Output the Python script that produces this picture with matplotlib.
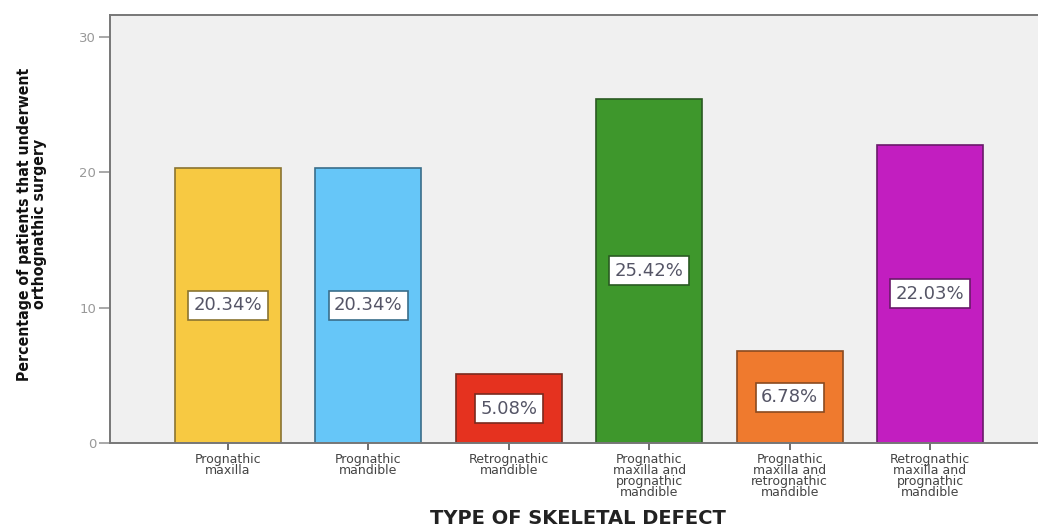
import matplotlib.pyplot as plt

categories = [
    "Prognathic\nmaxilla",
    "Prognathic\nmandible",
    "Retrognathic\nmandible",
    "Prognathic\nmaxilla and\nprognathic\nmandible",
    "Prognathic\nmaxilla and\nretrognathic\nmandible",
    "Retrognathic\nmaxilla and\nprognathic\nmandible",
]
percentages = [20.34, 20.34, 5.08, 25.42, 6.78, 22.03]
face_colors = ["#F7C942", "#66C6F8", "#E5321F", "#3E972C", "#EF7A2E", "#C21EC0"]
edge_colors = ["#8A7430", "#3A6E8A", "#7A2A1E", "#2A5A22", "#8A4A20", "#6A1A6A"]

fig = plt.figure(figsize=(10.38, 5.27), dpi=100)
ax = fig.add_axes([110 / 1038, 1 - 443 / 527, (1048 - 110) / 1038, (443 - 15) / 527])
ax.set_facecolor("#F0F0F0")

x = range(len(categories))
ax.bar(x, percentages, width=0.755, color=face_colors, edgecolor=edge_colors, linewidth=1.2, zorder=2)

# value labels sit halfway up each bar
for i, v in enumerate(percentages):
    ax.text(
        i, v / 2, f"{v:.2f}%",
        ha="center", va="center", fontsize=13, color="#555566",
        bbox=dict(boxstyle="square,pad=0.3", facecolor="white", edgecolor=edge_colors[i], linewidth=1.2),
        zorder=3,
    )

ax.set_xlim(-0.84, 5.84)
ax.set_ylim(0, 31.6)
ax.set_yticks([0, 10, 20, 30])
ax.set_xticks(list(x))
ax.set_xticklabels(categories, fontsize=9, color="#444444", linespacing=0.82)
ax.tick_params(axis="y", labelsize=9.5, colors="#999999", length=8, width=1.2, pad=2)
ax.tick_params(axis="x", length=5, width=1.2, color="#555555", pad=2)

for side in ["left", "bottom", "top"]:
    ax.spines[side].set_color("#777777")
    ax.spines[side].set_linewidth(1.4)
ax.spines["right"].set_visible(False)

fig.text(32 / 1038, 1 - 224 / 527, "Percentage of patients that underwent\northognathic surgery",
         rotation=90, ha="center", va="center", fontsize=11.3, fontweight="bold",
         fontfamily="DejaVu Sans", fontstretch="condensed", linespacing=1.05, color="#111111")
fig.text(578 / 1038, 1 - 519 / 527, "TYPE OF SKELETAL DEFECT", ha="center", va="center",
         fontsize=14, fontweight="bold", color="#222222")

fig.savefig("out.png", dpi=100)
